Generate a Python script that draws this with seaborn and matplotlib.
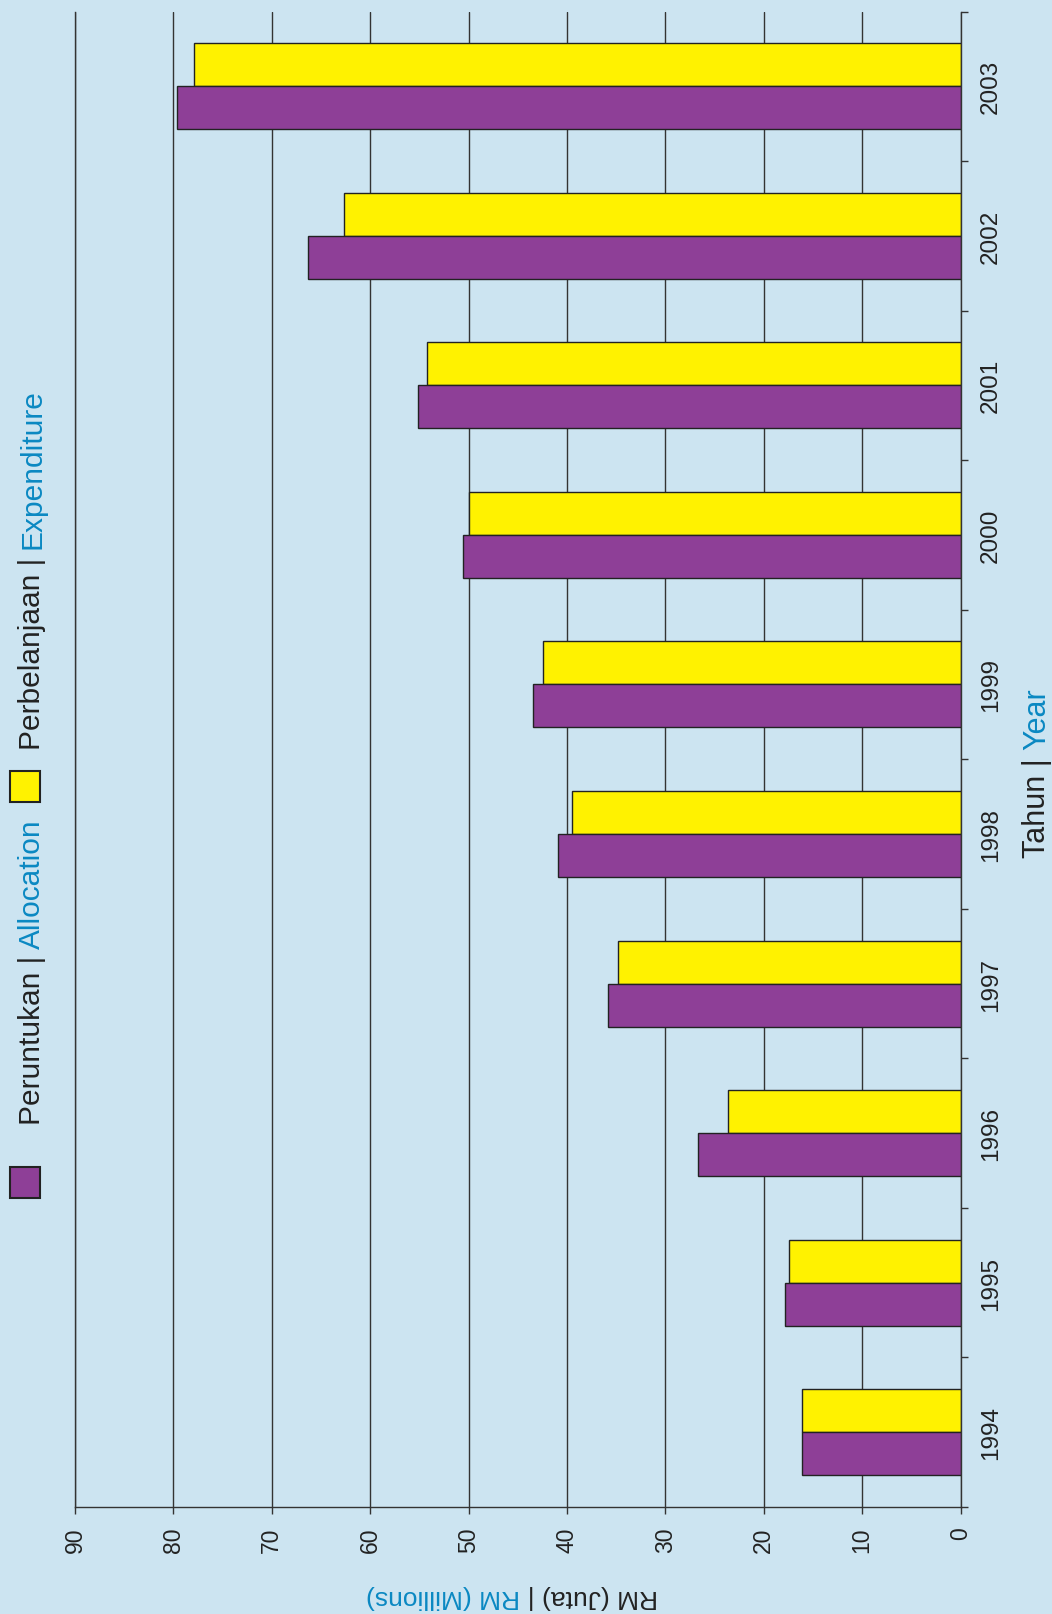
import numpy as np
import pandas as pd
import matplotlib
matplotlib.use('Agg')
import matplotlib.pyplot as plt
import seaborn as sns
from matplotlib.patches import Rectangle

# data
years = ['1994', '1995', '1996', '1997', '1998', '1999', '2000', '2001', '2002', '2003']
allocation = [16.1, 17.8, 26.7, 35.8, 40.9, 43.5, 50.6, 55.1, 66.3, 79.6]
expenditure = [16.1, 17.4, 23.6, 34.8, 39.5, 42.4, 50.0, 54.2, 62.65, 77.9]
value_ticks = [0, 10, 20, 30, 40, 50, 60, 70, 80, 90]

BG = '#cce4f1'
PURPLE = '#8e3f97'
YELLOW = '#fff200'
BLUE = '#0a88c2'
INK = '#222222'

sns.set_style('ticks')
plt.rcParams['font.family'] = ['Liberation Sans', 'DejaVu Sans']

df = pd.DataFrame({
    'year': years * 2,
    'value': expenditure + allocation,
    'series': ['exp'] * len(years) + ['alloc'] * len(years),
})

W, H = 1052, 1615
fig = plt.figure(figsize=(W / 100, H / 100), dpi=100, facecolor=BG)
ax = fig.add_axes([75 / W, (H - 1508) / H, (960.5 - 75) / W, (1508 - 12.5) / H])
ax.set_facecolor(BG)

order = years[::-1]
sns.barplot(data=df, y='year', x='value', hue='series', hue_order=['exp', 'alloc'],
            order=order, palette=[YELLOW, PURPLE], orient='h', width=0.575,
            saturation=1, edgecolor=INK, linewidth=1, legend=False, ax=ax)

ax.set_xlim(90, 0)
ax.set_ylim(len(years) - 0.5, -0.5)
ax.set_xticks(value_ticks)
ax.set_xticklabels([str(v) for v in value_ticks])
ax.set_axisbelow(True)
ax.grid(axis='x', color='#333333', lw=1)
ax.grid(axis='y', visible=False)
ax.set_xlabel('')
ax.set_ylabel('')

ax.spines['top'].set_visible(False)
for side in ['left', 'right', 'bottom']:
    ax.spines[side].set_color('#333333')
    ax.spines[side].set_linewidth(1)

ax.yaxis.tick_right()
ax.set_yticks(range(len(order)))
ax.set_yticklabels(order)
ax.set_yticks(np.arange(-0.5, len(order), 1), minor=True)
ax.tick_params(axis='y', which='major', length=0, pad=14, labelsize=17.5,
               labelrotation=90, labelcolor=INK, right=True, left=False)
ax.tick_params(axis='y', which='minor', length=5, width=1, color='#333333',
               right=True, left=False)
ax.tick_params(axis='x', which='major', length=5, width=1, color='#333333',
               pad=9, labelsize=16.5, labelrotation=90, labelcolor=INK)
for lbl in ax.get_yticklabels():
    lbl.set_va('center')

fig.canvas.draw()
renderer = fig.canvas.get_renderer()


def text_width(s, size):
    t = fig.text(0, 0, s, fontsize=size)
    w = t.get_window_extent(renderer).width
    t.remove()
    return w


def two_tone(x, y, first, second, rot, size):
    # anchor = baseline start of the text, in figure pixels
    d = np.array([np.cos(np.radians(rot)), np.sin(np.radians(rot))])
    off = text_width(first + second, size) - text_width(second, size)
    for s, c, o in [(first, INK, 0), (second, BLUE, off)]:
        px, py = x + d[0] * o, y + d[1] * o
        fig.text(px / W, py / H, s, color=c, fontsize=size, rotation=rot,
                 rotation_mode='anchor', ha='left', va='baseline')


# legend
fig.patches.append(Rectangle((10 / W, 416 / H), 30 / W, 31 / H, transform=fig.transFigure,
                             facecolor=PURPLE, edgecolor=INK, lw=1.5))
fig.patches.append(Rectangle((10 / W, 812 / H), 30 / W, 31 / H, transform=fig.transFigure,
                             facecolor=YELLOW, edgecolor=INK, lw=1.5))
two_tone(40, 490, 'Peruntukan | ', 'Allocation', 90, 21.5)
two_tone(40, 865, 'Perbelanjaan | ', 'Expenditure', 90, 21.5)

# axis titles
two_tone(1045, 757, 'Tahun | ', 'Year', 90, 22)
two_tone(658, 25, 'RM (Juta) | ', 'RM (Millions)', 180, 19)

fig.savefig('out.png', dpi=100, facecolor=BG)
